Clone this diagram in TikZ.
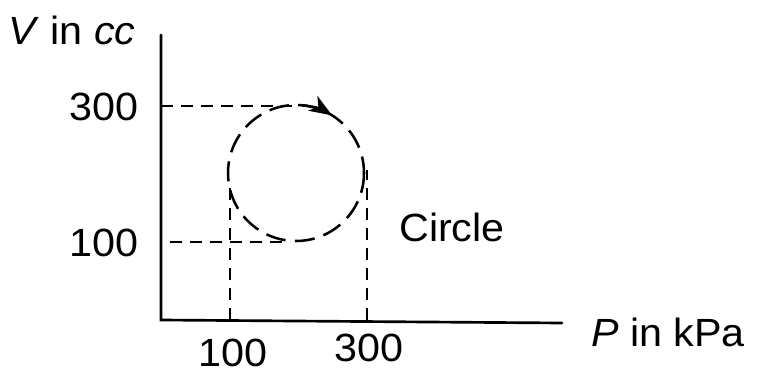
\documentclass[tikz,border=0pt]{standalone}
\usepackage{fontspec}
\setmainfont{Liberation Sans}[FakeStretch=1.05]
\usetikzlibrary{arrows.meta}
\begin{document}
\begin{tikzpicture}[x=0.75pt,y=-0.75pt,
  axis/.style={line width=2pt, line cap=round},
  guide/.style={line width=1.5pt, dash pattern=on 9pt off 6pt},
  circ/.style={line width=1.9pt, dash pattern=on 15pt off 7pt},
  lbl/.style={inner sep=0pt, font=\fontsize{29.5}{33}\selectfont}]
\useasboundingbox (0,0) rectangle (762,377);
\coordinate (o) at (161,320);
\coordinate (ytop) at (161,35);
\coordinate (xend) at (562,323);
\draw[axis] (ytop) -- (o) -- (xend);
% circle
\coordinate (c) at (296,173);
\draw[circ] (c) circle[radius=68];
\draw[line width=1.9pt, -{Stealth[length=17pt,width=13pt,inset=5pt]}] (c) ++(-85:68) arc[start angle=-85, end angle=-58, radius=68];
% guides
\coordinate (g3a) at (161,106);
\coordinate (g3b) at (292,106);
\coordinate (g1a) at (170,242);
\coordinate (g1b) at (290,242);
\coordinate (v1a) at (230,320);
\coordinate (v1b) at (230,185);
\coordinate (v3a) at (367,320);
\coordinate (v3b) at (367,170);
\draw[guide] (g3a) -- (g3b);
\draw[guide] (g1a) -- (g1b);
\draw[guide] (v1a) -- (v1b);
\draw[guide] (v3a) -- (v3b);
% labels
\node[lbl] (vl) at (72,30) {\textit{V} in \textit{cc}};
\node[lbl] (y300) at (104,107) {300};
\node[lbl] (y100) at (104,243) {100};
\node[lbl] (x100) at (233,353) {100};
\node[lbl] (x300) at (369,348) {300};
\node[lbl] (cl) at (452,227) {Circle};
\node[lbl] (pl) at (668,332) {\textit{P} in kPa};
\end{tikzpicture}
\end{document}
